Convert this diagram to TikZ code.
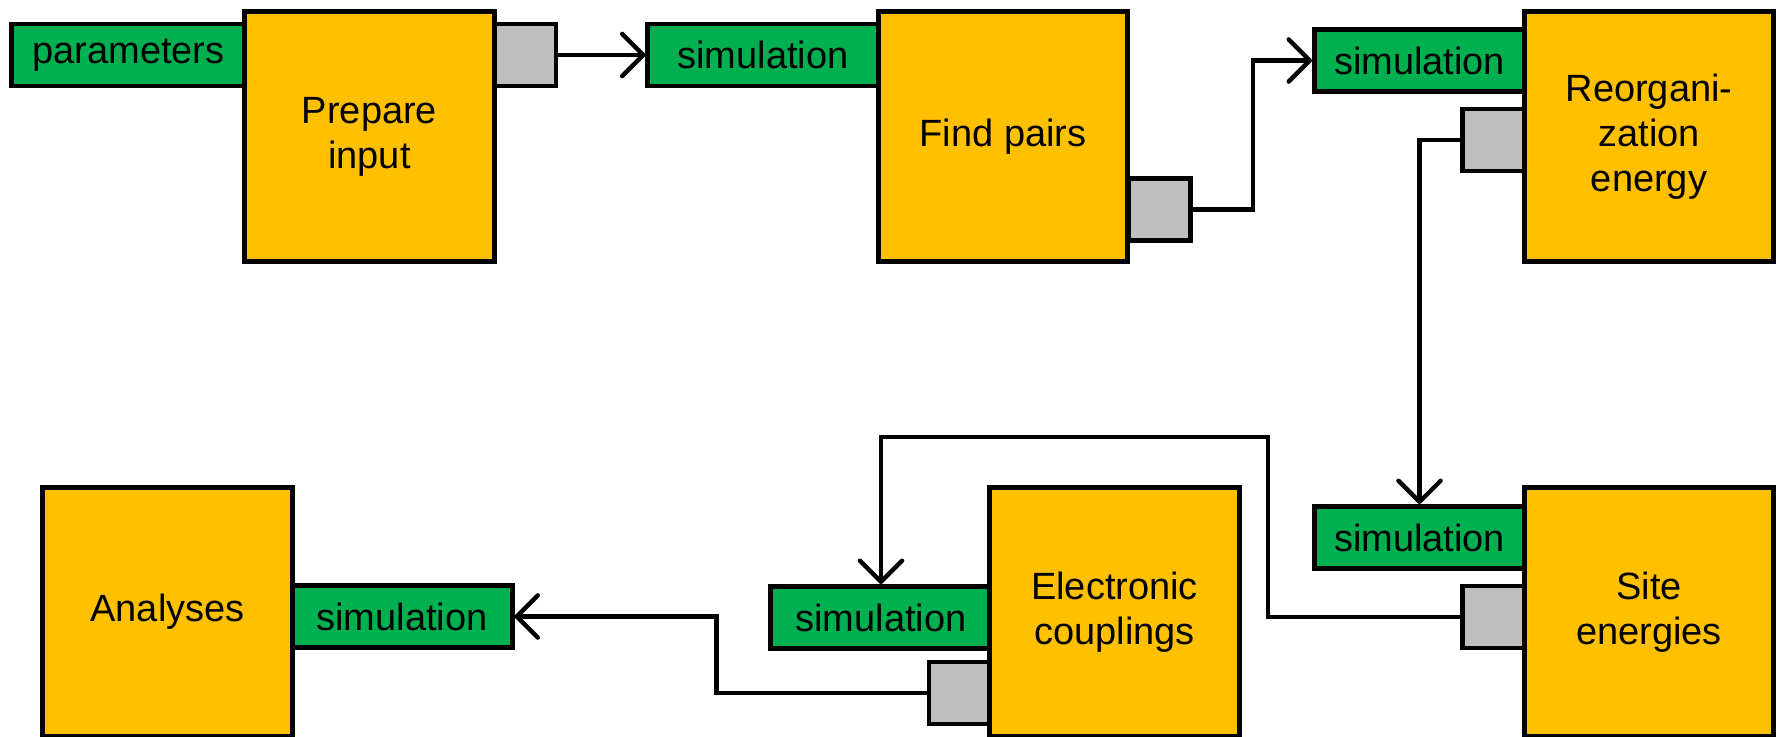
\documentclass[tikz,border=0pt]{standalone}
\usepackage{fontspec}
\setmainfont{Liberation Sans}
\usepackage{tikz}
\usetikzlibrary{arrows.meta, positioning}
\definecolor{mOrange}{HTML}{FFC000}
\definecolor{mGreen}{HTML}{00B050}
\definecolor{mGrey}{HTML}{BFBFBF}

\begin{document}
\begin{tikzpicture}[x=0.01cm, y=-0.01cm,
    every node/.style={font=\fontsize{10.8}{12.8}\selectfont, inner sep=0pt},
    task/.style={draw, line width=1.4pt, fill=mOrange, minimum width=2.49cm, minimum height=2.49cm, align=center},
    datatag/.style={draw, line width=1.4pt, fill=mGreen, minimum height=0.62cm},
    port/.style={draw, line width=1.4pt, fill=mGrey, minimum width=0.62cm, minimum height=0.62cm},
    flow/.style={line width=1.25pt, -{Straight Barb[length=6pt, width=12pt, round]}}]
    \useasboundingbox (0,0) rectangle (1780,737);
    % data going in
    \node[datatag, minimum width=2.33cm] (par) at (128.5,55) {parameters};
    \node[datatag, minimum width=2.30cm] (simB) at (763,55) {simulation};
    \node[datatag, minimum width=2.10cm] (simC) at (1419.5,60.5) {simulation};
    \node[datatag, minimum width=2.10cm] (simD) at (1419.5,537.5) {simulation};
    \node[datatag, minimum width=2.20cm] (simE) at (881,617.5) {simulation};
    \node[datatag, minimum width=2.20cm] (simF) at (402,616.5) {simulation};
    % data going out
    \node[port] (outA) at (525,55) {};
    \node[port] (outB) at (1159.5,209.5) {};
    \node[port] (outC) at (1493.5,140) {};
    \node[port] (outD) at (1493.5,617) {};
    \node[port] (outE) at (960,693) {};
    % steps
    \node[task] (prep) at (369.5,136.5) {Prepare\\input};
    \node[task] (pairs) at (1003,136.5) {Find pairs};
    \node[task] (reorg) at (1649,136.5) {Reorgani-\\zation\\energy};
    \node[task] (site) at (1649,612) {Site\\energies};
    \node[task] (coupl) at (1114.5,612) {Electronic\\couplings};
    \node[task] (ana) at (167.5,612) {Analyses};
    % wiring
    \draw[flow] (outA.east) -- (simB.west);
    \draw[flow] (outB.east) -- ++(60,0) |- (simC.west);
    \draw[flow] (outC.west) -| (simD.north);
    \draw[flow] (outD.west) -| ++(-192,-180) -| (simE.north);
    \draw[flow] (outE.west) -- ++(-210,0) |- (simF.east);
  \end{tikzpicture}
\end{document}
